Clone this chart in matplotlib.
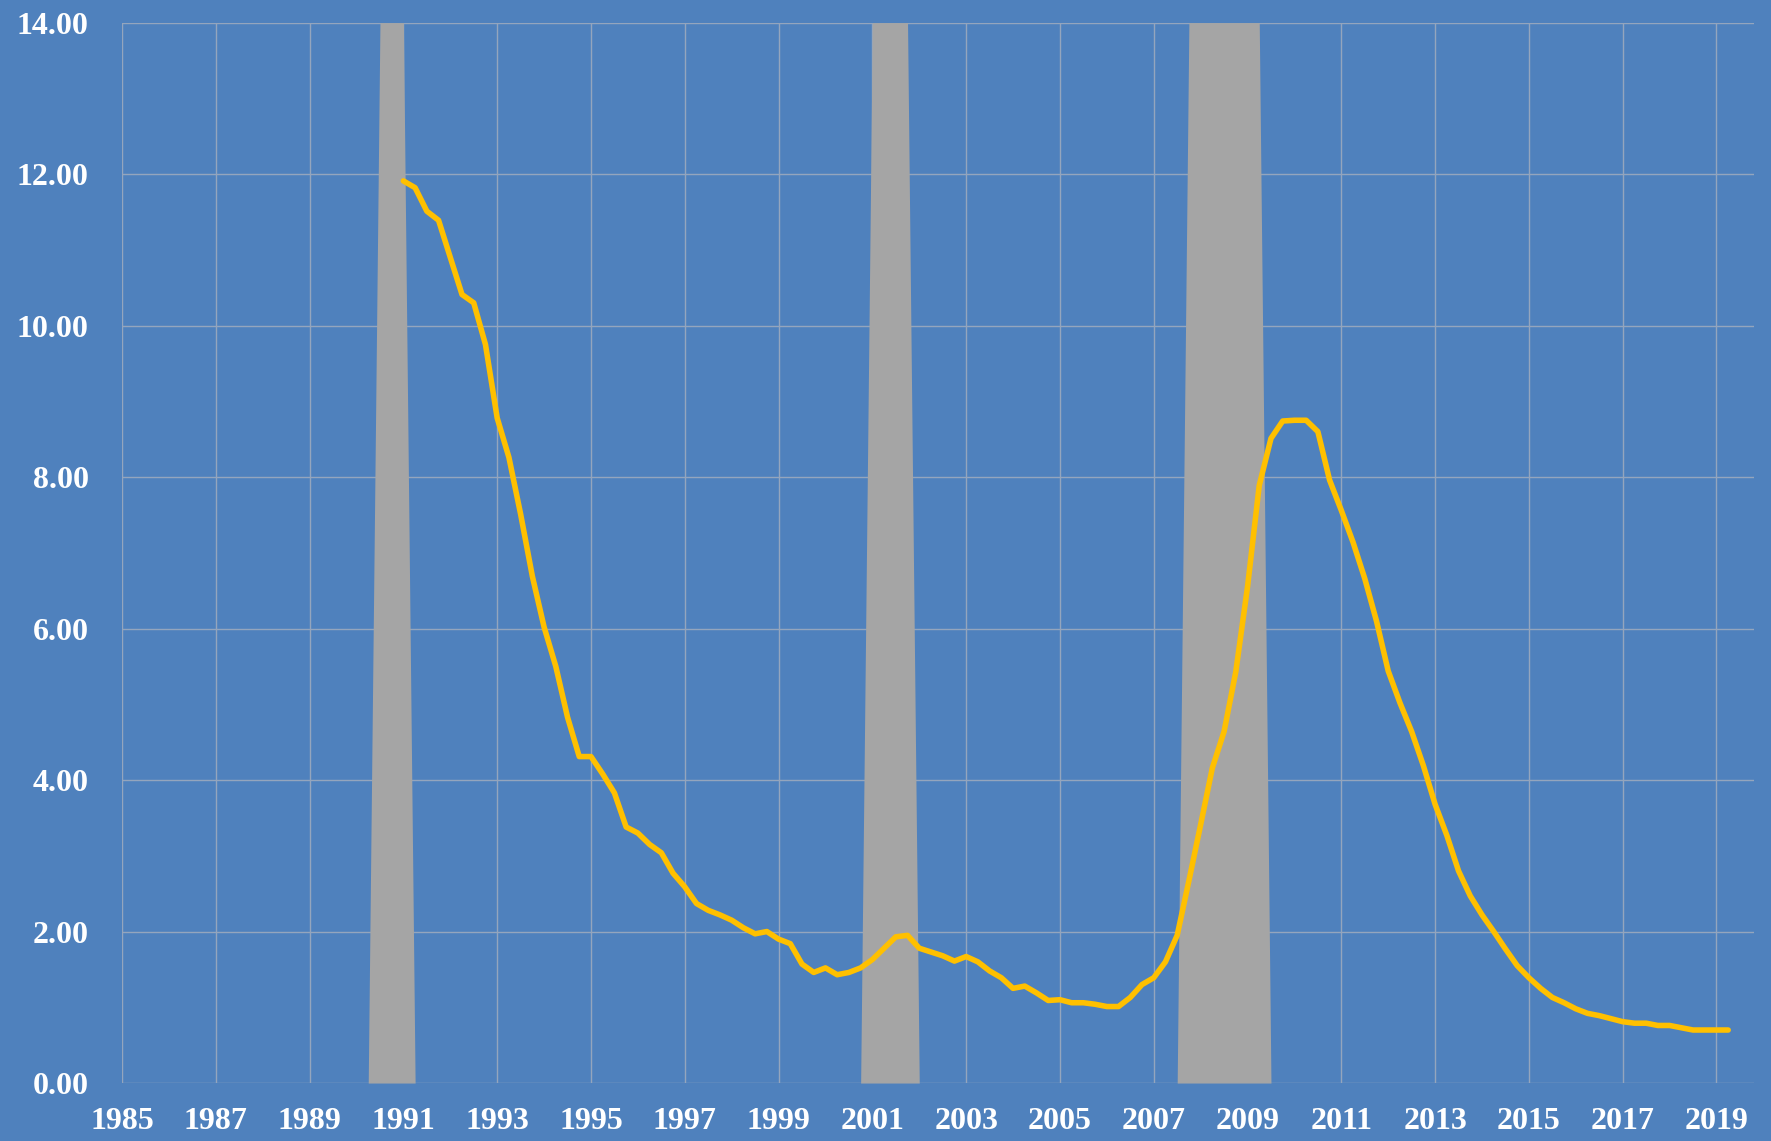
import numpy as np
import matplotlib
matplotlib.use("Agg")
import matplotlib.pyplot as plt

# quarterly values, 1991Q1 .. 2019Q2
line_start = 1991.0
line_values = [
    11.91, 11.82, 11.51, 11.39,   # 1991
    10.90, 10.41, 10.30, 9.75,    # 1992
    8.78, 8.26, 7.51, 6.69,       # 1993
    6.02, 5.50, 4.83, 4.31,       # 1994
    4.31, 4.08, 3.83, 3.38,       # 1995
    3.30, 3.15, 3.04, 2.77,       # 1996
    2.59, 2.37, 2.28, 2.22,       # 1997
    2.15, 2.05, 1.97, 2.00,       # 1998
    1.90, 1.84, 1.57, 1.46,       # 1999
    1.52, 1.43, 1.46, 1.52,       # 2000
    1.63, 1.78, 1.93, 1.95,       # 2001
    1.78, 1.73, 1.68, 1.61,       # 2002
    1.67, 1.60, 1.48, 1.39,       # 2003
    1.25, 1.28, 1.19, 1.09,       # 2004
    1.10, 1.06, 1.06, 1.04,       # 2005
    1.01, 1.01, 1.13, 1.30,       # 2006
    1.39, 1.60, 1.95, 2.67,       # 2007
    3.41, 4.16, 4.64, 5.43,       # 2008
    6.55, 7.89, 8.51, 8.74,       # 2009
    8.75, 8.75, 8.60, 7.96,       # 2010
    7.56, 7.14, 6.66, 6.10,       # 2011
    5.44, 5.02, 4.64, 4.19,       # 2012
    3.68, 3.27, 2.80, 2.47,       # 2013
    2.22, 2.00, 1.77, 1.55,       # 2014
    1.39, 1.25, 1.13, 1.06,       # 2015
    0.98, 0.92, 0.89, 0.85,       # 2016
    0.81, 0.79, 0.79, 0.76,       # 2017
    0.76, 0.73, 0.70, 0.70,       # 2018
    0.70, 0.70,                   # 2019
]

# recession quarters (shaded area series = 14 in these quarters, 0 otherwise)
recession_quarters = [
    "1990Q3", "1990Q4", "1991Q1",
    "2001Q1", "2001Q2", "2001Q3", "2001Q4",
    "2007Q4", "2008Q1", "2008Q2", "2008Q3", "2008Q4", "2009Q1", "2009Q2",
]
rec_height = 14.0

y_ticks = [0, 2, 4, 6, 8, 10, 12, 14]
x_ticks = list(range(1985, 2020, 2))


def q_to_x(q):
    return int(q[:4]) + (int(q[-1]) - 1) / 4


line_x = line_start + np.arange(len(line_values)) / 4

all_q = [f"{y}Q{q}" for y in range(1985, 2020) for q in range(1, 5)][:-2]
rec_x = np.array([q_to_x(q) for q in all_q])
rec_y = np.array([rec_height if q in recession_quarters else 0.0 for q in all_q])

bg = "#4F81BD"
fig = plt.figure(figsize=(17.71, 11.41), dpi=100)
fig.patch.set_facecolor(bg)
ax = fig.add_axes([0.0689, 0.0508, 0.9215, 0.9294])
ax.set_facecolor(bg)

ax.fill_between(rec_x, 0, rec_y, color="#A5A5A5", lw=0, zorder=2)
ax.plot(line_x, line_values, color="#FFC000", lw=4.0, solid_joinstyle="round",
        solid_capstyle="round", zorder=3)

ax.set_xlim(1985, 2019.8)
ax.set_ylim(0, 14)
ax.set_xticks(x_ticks)
ax.set_yticks(y_ticks)
ax.set_yticklabels([f"{v:.2f}" for v in y_ticks])
ax.grid(True, color="#94A5BD", lw=1.0, zorder=1)
ax.set_axisbelow(True)
for s in ax.spines.values():
    s.set_visible(False)
ax.tick_params(length=0, colors="white")
ax.tick_params(axis="y", pad=24)
ax.tick_params(axis="x", pad=17)
for lab in ax.get_xticklabels() + ax.get_yticklabels():
    lab.set_fontfamily("Liberation Serif")
    lab.set_fontweight("bold")
    lab.set_fontsize(23)
    lab.set_color("white")

fig.savefig("out.png", dpi=100, facecolor=bg)
